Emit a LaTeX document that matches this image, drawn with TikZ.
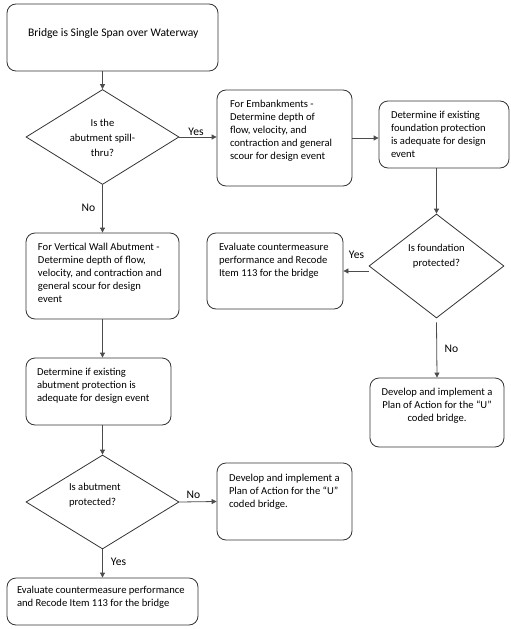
\documentclass[tikz,border=0pt]{standalone}
\usepackage{fontspec}
\setmainfont{Carlito}
\usetikzlibrary{shapes.geometric,arrows.meta}
\newcommand\mybox[5]{\parbox[c][#2][t]{#1}{\raggedright\leftskip=#3\relax\vspace*{#4}#5\par}}
\newcommand\mycbox[4]{\parbox[c][#2][t]{#1}{\centering\vspace*{#3}#4\par}}
\begin{document}
\begin{tikzpicture}[x=1pt,y=-1pt,
  box/.style={draw=black!80, line width=0.8pt, rounded corners=9pt, inner sep=0pt, font=\fontsize{10.6}{13}\selectfont},
  dec/.style={draw=black!80, line width=0.8pt, shape=diamond, inner sep=0pt, font=\fontsize{10.6}{15}\selectfont},
  lbl/.style={inner sep=0pt, anchor=base, font=\fontsize{11.6}{13}\selectfont},
  conn/.style={draw=black!70, line width=0.8pt, -{Triangle[length=5pt,width=5pt]}},
]
\useasboundingbox (0,0) rectangle (511,629);

% boxes
\node[box, font=\fontsize{11.6}{14}\selectfont] (b1) at (112.5,37.5)
  {\mybox{211pt}{67pt}{21pt}{24pt}{Bridge is Single Span over Waterway}};
\node[box] (b2) at (284.5,138)
  {\mybox{135pt}{96pt}{13pt}{10pt}{For Embankments -\\Determine depth of\\flow, velocity, and\\contraction and general\\scour for design event}};
\node[box] (b3) at (444,134.5)
  {\mybox{130pt}{67pt}{12pt}{10pt}{Determine if existing\\foundation protection\\is adequate for design\\event}};
\node[box] (b4) at (275,271)
  {\mybox{136pt}{76pt}{12pt}{10pt}{Evaluate countermeasure\\performance and Recode\\Item 113 for the bridge}};
\node[box] (b5) at (437,412.5)
  {\mycbox{134pt}{69pt}{10pt}{Develop and implement a\\Plan of Action for the “U”\\coded bridge.}};
\node[box] (b6) at (102.5,276)
  {\mybox{153pt}{86pt}{12pt}{10pt}{For Vertical Wall Abutment -\\Determine depth of flow,\\velocity, and contraction and\\general scour for design\\event}};
\node[box] (b7) at (98.5,391.5)
  {\mybox{145pt}{67pt}{11pt}{10pt}{Determine if existing\\abutment protection is\\adequate for design event}};
\node[box] (b8) at (284.5,501.5)
  {\mybox{135pt}{77pt}{12pt}{11pt}{Develop and implement a\\Plan of Action for the “U”\\coded bridge.}};
\node[box] (b9) at (102.5,601.5)
  {\mybox{191pt}{47pt}{10pt}{8pt}{Evaluate countermeasure performance\\and Recode Item 113 for the bridge}};

% decisions
\node[dec, minimum width=153pt, minimum height=95pt, aspect=1.6] (d1) at (102.5,137)
  {\mycbox{72pt}{40pt}{2pt}{Is the\\abutment spill-\\thru?}};
\node[dec, minimum width=135pt, minimum height=104pt, aspect=1.3] (d2) at (436.5,266)
  {\mycbox{70pt}{44pt}{0pt}{Is foundation\\protected?}};
\node[dec, minimum width=153pt, minimum height=94pt, aspect=1.6] (d3) at (102.5,502)
  {\parbox[c][38pt][t]{67pt}{\raggedright Is abutment\\protected?\par}};

% labels
\node[lbl] (ly1) at (196,135) {Yes};
\node[lbl] (ln1) at (88.5,211) {No};
\node[lbl] (ly2) at (356.5,258) {Yes};
\node[lbl] (ln2) at (451.5,352) {No};
\node[lbl] (ln3) at (193.5,498) {No};
\node[lbl] (ly3) at (118.5,565) {Yes};

% connectors
\draw[conn] (d1.north |- b1.south) -- (d1.north);
\draw[conn] (d1.east) -- (d1.east -| b2.west);
\draw[conn] (b2.east) -- (b2.east -| b3.west);
\draw[conn] (d2.north |- b3.south) -- (d2.north);
\draw[conn] (d2.west |- b4.east) -- (b4.east);
\draw[conn] ([yshift=-4pt]d2.south) -- (b5.north);
\draw[conn] (d1.south) -- (b6.north);
\draw[conn] (b6.south) -- (b6.south |- b7.north);
\draw[conn] (d3.north |- b7.south) -- (d3.north);
\draw[conn] (d3.east) -- (b8.west);
\draw[conn] (d3.south) -- (b9.north);
\end{tikzpicture}
\end{document}
